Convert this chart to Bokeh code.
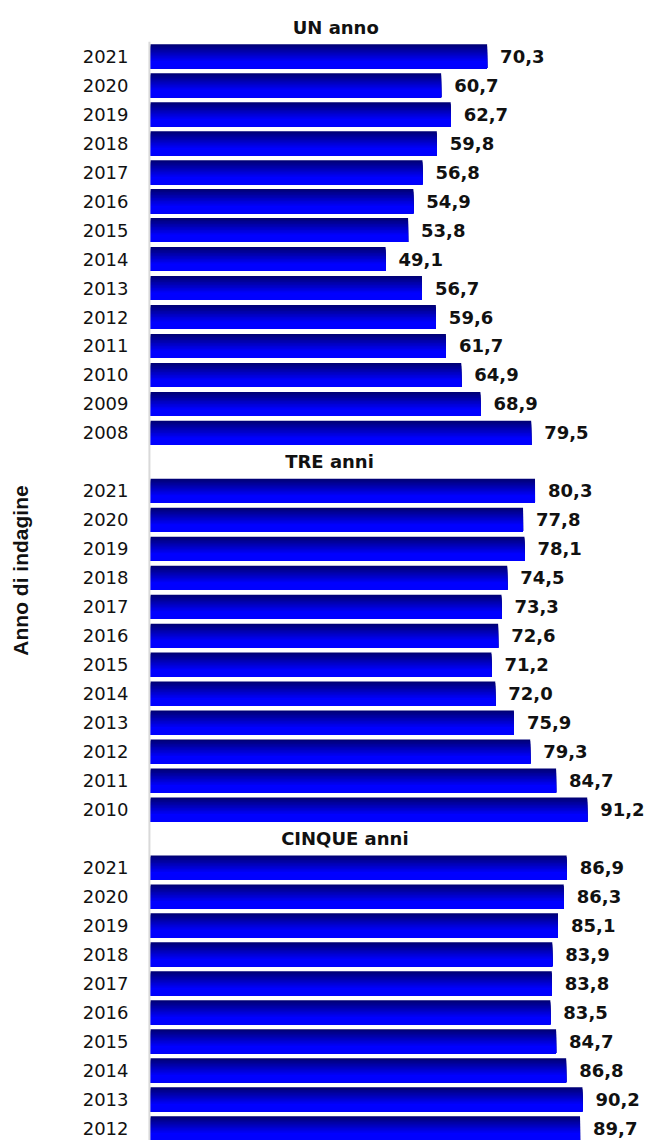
from bokeh.plotting import figure
from bokeh.models import Range1d, FixedTicker, ColumnDataSource
from bokeh.core.properties import value
from bokeh.embed import file_html
from bokeh.resources import INLINE

# ---- data ----
group_titles = ["UN anno", "TRE anni", "CINQUE anni"]
un_years = ["2021", "2020", "2019", "2018", "2017", "2016", "2015", "2014", "2013", "2012", "2011", "2010", "2009", "2008"]
un_values = [70.3, 60.7, 62.7, 59.8, 56.8, 54.9, 53.8, 49.1, 56.7, 59.6, 61.7, 64.9, 68.9, 79.5]
tre_years = ["2021", "2020", "2019", "2018", "2017", "2016", "2015", "2014", "2013", "2012", "2011", "2010"]
tre_values = [80.3, 77.8, 78.1, 74.5, 73.3, 72.6, 71.2, 72.0, 75.9, 79.3, 84.7, 91.2]
cinque_years = ["2021", "2020", "2019", "2018", "2017", "2016", "2015", "2014", "2013", "2012"]
cinque_values = [86.9, 86.3, 85.1, 83.9, 83.8, 83.5, 84.7, 86.8, 90.2, 89.7]
axis_title = "Anno di indagine"

groups = [(group_titles[0], un_years, un_values),
          (group_titles[1], tre_years, tre_values),
          (group_titles[2], cinque_years, cinque_values)]

# ---- layout of rows ----
rows_bar, vals, labels_map, title_rows = [], [], {}, []
r = 0
for title, yrs, vs in groups:
    title_rows.append(r)
    r += 1
    for yy, vv in zip(yrs, vs):
        rows_bar.append(r)
        vals.append(vv)
        labels_map[r] = yy
        r += 1

PX_PER_UNIT = 4.79
ROW_PX = 28.97
W, H = 650, 1140
LEFT = 147
x_start = -0.6
x_end = x_start + (W - LEFT) / PX_PER_UNIT
y_top = -26.8 / ROW_PX
y_bottom = y_top + H / ROW_PX

p = figure(width=W, height=H, output_backend="svg", toolbar_location=None,
           x_range=Range1d(x_start, x_end), y_range=Range1d(y_bottom, y_top),
           min_border_left=LEFT, min_border_right=0, min_border_top=0, min_border_bottom=0)
p.xaxis.visible = False
p.grid.visible = False
p.outline_line_color = None
p.background_fill_color = "white"

# gradient bars: overlapping strips (each runs from its own top to the bar bottom)
BAR_H = 0.83
N_STRIP = 16
sx, sy, sh, sc = [], [], [], []
for row, v in zip(rows_bar, vals):
    top = row - BAR_H / 2
    bot = row + BAR_H / 2
    step = BAR_H / N_STRIP
    for k in range(N_STRIP):
        t = (k + 0.5) / N_STRIP
        b = int(round(0x70 + (0xFF - 0x70) * min(1.0, t / 0.72)))
        s_top = top + k * step
        sx.append(v)
        sy.append((s_top + bot) / 2)
        sh.append(bot - s_top)
        sc.append("#0000%02x" % b)
src = ColumnDataSource(dict(x=sx, y=sy, h=sh, c=sc))
p.hbar(y="y", right="x", left=0, height="h", fill_color="c", line_color=None, source=src)

# axis line
p.segment(x0=[-0.2], y0=[0.5], x1=[-0.2], y1=[y_bottom], line_color="#d9d9d9", line_width=2)

# value labels
lsrc = ColumnDataSource(dict(x=vals, y=rows_bar, t=[("%.1f" % v).replace(".", ",") for v in vals]))
p.text(x="x", y="y", text="t", source=lsrc, x_offset=13, text_align="left", text_baseline="middle",
       text_font=value("DejaVu Sans"), text_font_size="18px", text_font_style="bold", text_color="#111111")

# group titles
title_x = [38.7, 37.4, 40.6]
tsrc = ColumnDataSource(dict(x=title_x, y=title_rows, t=group_titles))
p.text(x="x", y="y", text="t", source=tsrc, text_align="center", text_baseline="middle",
       text_font=value("DejaVu Sans"), text_font_size="18px", text_font_style="bold", text_color="#111111")

# y axis with year labels
p.yaxis.ticker = FixedTicker(ticks=rows_bar)
p.yaxis.major_label_overrides = {k: v for k, v in labels_map.items()}
p.yaxis.axis_line_color = None
p.yaxis.major_tick_line_color = None
p.yaxis.minor_tick_line_color = None
p.yaxis.major_tick_out = 0
p.yaxis.major_tick_in = 0
p.yaxis.major_label_standoff = 19
p.yaxis.major_label_text_font = "DejaVu Sans"
p.yaxis.major_label_text_font_size = "18px"
p.yaxis.major_label_text_color = "#111111"
p.yaxis.axis_label = axis_title
p.yaxis.axis_label_text_font = "Liberation Sans"
p.yaxis.axis_label_text_font_size = "21px"
p.yaxis.axis_label_text_font_style = "bold"
p.yaxis.axis_label_text_color = "#111111"
p.yaxis.axis_label_standoff = 48

open("out.html", "w").write(file_html(p, INLINE))
